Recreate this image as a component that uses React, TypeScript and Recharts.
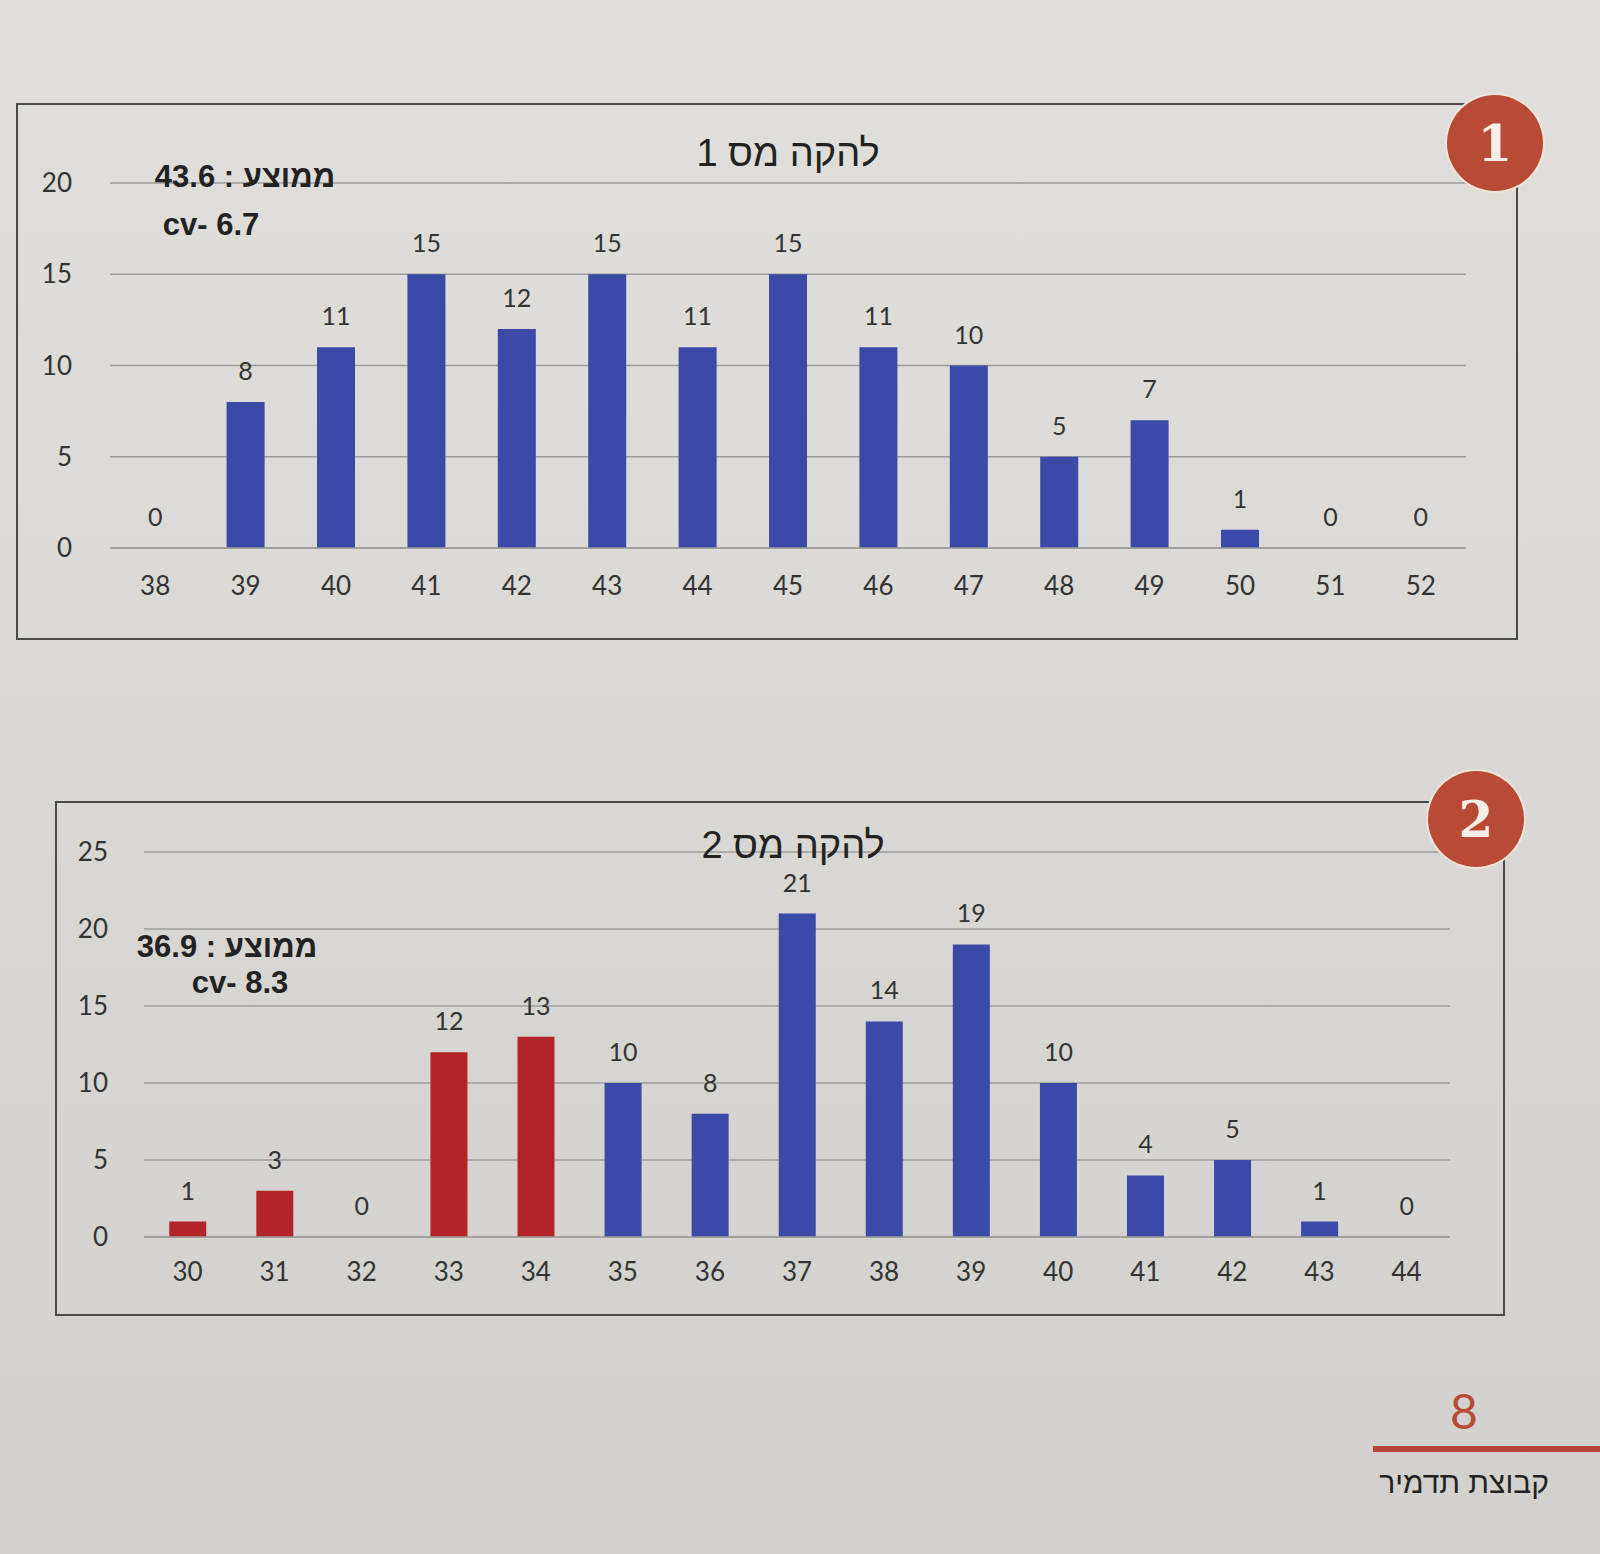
import React from "react";
import {
  Bar,
  BarChart,
  CartesianGrid,
  Cell,
  LabelList,
  XAxis,
  YAxis,
} from "recharts";

// band 1: score bins and counts
const band1Bins = ["38", "39", "40", "41", "42", "43", "44", "45", "46", "47", "48", "49", "50", "51", "52"];
const band1Counts = [0, 8, 11, 15, 12, 15, 11, 15, 11, 10, 5, 7, 1, 0, 0];
const band1Ticks = [0, 5, 10, 15, 20];

// band 2
const band2Bins = ["30", "31", "32", "33", "34", "35", "36", "37", "38", "39", "40", "41", "42", "43", "44"];
const band2Counts = [1, 3, 0, 12, 13, 10, 8, 21, 14, 19, 10, 4, 5, 1, 0];
const band2Ticks = [0, 5, 10, 15, 20, 25];

const band1Title = "להקה מס 1";
const band2Title = "להקה מס 2";
const band1Mean = "ממוצע : 43.6";
const band1Cv = "cv- 6.7";
const band2Mean = "ממוצע : 36.9";
const band2Cv = "cv- 8.3";
const pageNumber = "8";
const footerText = "קבוצת תדמיר";

// bins under this value are drawn in red
const lowThreshold = 35;

const BLUE = "#3b4aa6";
const RED = "#b3232a";
const BADGE = "#b84a36";
const GRID = "#9c9c9a";
const FONT = "Lato, 'Liberation Sans', sans-serif";
const HEB = "'Liberation Sans', 'DejaVu Sans', sans-serif";

const data1 = band1Bins.map((bin, i) => ({ bin, count: band1Counts[i] }));
const data2 = band2Bins.map((bin, i) => ({ bin, count: band2Counts[i] }));

const tickStyle = { fontSize: 26, fill: "#333", fontFamily: FONT };
const labelStyle = { fontSize: 25, fill: "#333", fontFamily: FONT };

const Text = ({
  x,
  y,
  children,
  size,
  bold,
  color = "#222",
  rtl,
  font = HEB,
}: {
  x: number;
  y: number;
  children: React.ReactNode;
  size: number;
  bold?: boolean;
  color?: string;
  rtl?: boolean;
  font?: string;
}) => (
  <div
    dir={rtl ? "rtl" : "ltr"}
    style={{
      position: "absolute",
      left: x,
      top: y,
      transform: "translate(-50%, -50%)",
      fontSize: size,
      fontWeight: bold ? 700 : 400,
      fontFamily: font,
      color,
      lineHeight: 1,
      whiteSpace: "nowrap",
    }}
  >
    {children}
  </div>
);

const Badge = ({ x, y, label }: { x: number; y: number; label: string }) => (
  <div
    style={{
      position: "absolute",
      left: x - 48,
      top: y - 48,
      width: 96,
      height: 96,
      borderRadius: "50%",
      background: BADGE,
      boxShadow: "0 0 0 2px #f1e4da",
      display: "flex",
      alignItems: "center",
      justifyContent: "center",
      color: "#f6efe8",
      fontFamily: "'DejaVu Serif', serif",
      fontWeight: 700,
      fontSize: 50,
    }}
  >
    {label}
  </div>
);

const Box = ({ l, t, r, b }: { l: number; t: number; r: number; b: number }) => (
  <div
    style={{
      position: "absolute",
      left: l,
      top: t,
      width: r - l,
      height: b - t,
      border: "2px solid #4a4a4a",
      boxSizing: "border-box",
    }}
  />
);

const App = () => {
  return (
    <div
      style={{
        position: "absolute",
        left: 0,
        top: 0,
        width: 1600,
        height: 1554,
        overflow: "hidden",
        background: "linear-gradient(180deg, #e0dfdc 0%, #d9d8d5 50%, #d1d0cd 100%)",
      }}
    >
      <Box l={16} t={103} r={1518} b={640} />
      <Box l={55} t={801} r={1505} b={1316} />

      <div style={{ position: "absolute", left: 0, top: 100 }}>
        <BarChart
          width={1520}
          height={560}
          data={data1}
          margin={{ top: 83, right: 54, left: 0, bottom: 0 }}
          barCategoryGap="29%"
        >
          <CartesianGrid vertical={false} stroke={GRID} strokeWidth={1.6} />
          <XAxis
            dataKey="bin"
            interval={0}
            height={112}
            tickSize={0}
            tickMargin={29}
            axisLine={{ stroke: GRID, strokeWidth: 1.6 }}
            tick={tickStyle}
          />
          <YAxis
            width={110}
            domain={[0, 20]}
            ticks={band1Ticks}
            interval={0}
            axisLine={false}
            tickLine={false}
            tickSize={0}
            tickMargin={38}
            tick={tickStyle}
          />
          <Bar dataKey="count" fill={BLUE} minPointSize={0.01} isAnimationActive={false}>
            <LabelList dataKey="count" position="top" offset={22} style={labelStyle} />
          </Bar>
        </BarChart>
      </div>

      <div style={{ position: "absolute", left: 0, top: 800 }}>
        <BarChart
          width={1520}
          height={520}
          data={data2}
          margin={{ top: 52, right: 70, left: 0, bottom: 0 }}
          barCategoryGap="29%"
        >
          <CartesianGrid vertical={false} stroke={GRID} strokeWidth={1.6} />
          <XAxis
            dataKey="bin"
            interval={0}
            height={83}
            tickSize={0}
            tickMargin={26}
            axisLine={{ stroke: GRID, strokeWidth: 1.6 }}
            tick={tickStyle}
          />
          <YAxis
            width={144}
            domain={[0, 25]}
            ticks={band2Ticks}
            interval={0}
            axisLine={false}
            tickLine={false}
            tickSize={0}
            tickMargin={36}
            tick={tickStyle}
          />
          <Bar dataKey="count" minPointSize={0.01} isAnimationActive={false}>
            {data2.map((d) => (
              <Cell key={d.bin} fill={Number(d.bin) < lowThreshold ? RED : BLUE} />
            ))}
            <LabelList dataKey="count" position="top" offset={22} style={labelStyle} />
          </Bar>
        </BarChart>
      </div>

      <Text x={788} y={153} size={38} rtl>
        {band1Title}
      </Text>
      <Text x={245} y={176} size={31} bold rtl>
        {band1Mean}
      </Text>
      <Text x={211} y={224} size={31} bold>
        {band1Cv}
      </Text>

      <Text x={793} y={845} size={38} rtl>
        {band2Title}
      </Text>
      <Text x={227} y={946} size={31} bold rtl>
        {band2Mean}
      </Text>
      <Text x={240} y={982} size={31} bold>
        {band2Cv}
      </Text>

      <Badge x={1495} y={143} label="1" />
      <Badge x={1476} y={819} label="2" />

      <Text x={1464} y={1411} size={48} color={BADGE} font={FONT}>
        {pageNumber}
      </Text>
      <div
        style={{
          position: "absolute",
          left: 1373,
          top: 1446,
          width: 227,
          height: 6,
          background: "#b8443a",
        }}
      />
      <Text x={1464} y={1483} size={30} rtl>
        {footerText}
      </Text>
    </div>
  );
};

export default App;
